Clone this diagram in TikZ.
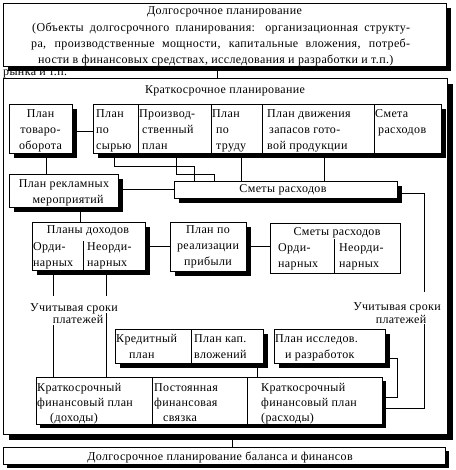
\documentclass[tikz,border=0pt]{standalone}
\usepackage{fontspec}
\setmainfont[LetterSpace=3]{Liberation Serif}
\usetikzlibrary{shadows}
\pgfdeclarelayer{bg}
\pgfdeclarelayer{lines}
\pgfsetlayers{bg,lines,main}
\begin{document}
\begin{tikzpicture}[x=1pt,y=-1pt,
  box/.style={draw, fill=white, line width=0.8pt, inner sep=0pt, outer sep=0pt, anchor=north west},
  shd/.style={drop shadow={shadow xshift=#1, shadow yshift=-#1, fill=black, opacity=1}},
  shd/.default=5pt,
  txt/.style={inner sep=0pt, anchor=base west, align=left, font=\fontsize{12}{16}\selectfont},
  ctxt/.style={inner sep=0pt, anchor=base, align=center, font=\fontsize{12}{16}\selectfont},
  conn/.style={line width=0.8pt}]
\useasboundingbox (0,0) rectangle (455,470);
% background layer: stray text and the outer frame
\begin{pgfonlayer}{bg}
\node[txt] (stray) at (3,76) {рынка и т.п.};
\node[box, shd=6pt, minimum width=444pt, minimum height=356pt] (outer) at (3,78) {};
\end{pgfonlayer}
% boxes
\node[box, shd, minimum width=443pt, minimum height=63pt] (top) at (3,3) {};
\node[box, shd=4pt, minimum width=442pt, minimum height=17pt] (bot) at (3,447) {};
\node[box, shd, minimum width=63pt, minimum height=49pt] (tovar) at (9,104) {};
\node[box, shd, minimum width=348pt, minimum height=49pt] (row) at (93,104) {};
\node[box, shd, minimum width=109pt, minimum height=33pt] (reklam) at (9,174) {};
\node[box, shd, minimum width=223pt, minimum height=17pt] (smety1) at (174,181) {};
\node[box, shd, minimum width=113pt, minimum height=48pt] (dohod) at (32,222) {};
\node[box, shd, minimum width=76pt, minimum height=49pt] (real) at (170,222) {};
\node[box, minimum width=130pt, minimum height=50pt] (smety2) at (270,223) {};
\node[box, shd, minimum width=148pt, minimum height=34pt] (kred) at (115,329) {};
\node[box, shd, minimum width=111pt, minimum height=34pt] (issl) at (274,329) {};
\node[box, shd=4pt, minimum width=346pt, minimum height=47pt] (fin) at (36,377) {};
% dividers
\foreach \dx in {45,118,169,281}
  \draw[conn] ([xshift=\dx pt]row.north west) -- ([xshift=\dx pt]row.south west);
\draw[conn] ([xshift=51pt,yshift=-19pt]dohod.north west) -- ([xshift=51pt]dohod.south west);
\draw[conn] ([xshift=64pt,yshift=-16pt]smety2.north west) -- ([xshift=64pt]smety2.south west);
\draw[conn] ([xshift=76pt]kred.north west) -- ([xshift=76pt]kred.south west);
\draw[conn] ([xshift=116pt]fin.north west) -- ([xshift=116pt]fin.south west);
\draw[conn] ([xshift=211pt]fin.north west) -- ([xshift=211pt]fin.south west);
% texts (multi-line nodes are placed by the baseline of their last line)
\node[ctxt] (tT1) at (224.5,15) {Долгосрочное планирование};
\node[txt] (tT2) at (32,31.3) {\makebox[378pt][s]{(Объекты долгосрочного планирования: организационная структу-}};
\node[txt] (tT3) at (31,47.6) {\makebox[379pt][s]{ра, производственные мощности, капитальные вложения, потреб-}};
\node[txt] (tT4) at (38,64) {ности в финансовых средствах, исследования и разработки и т.п.)};
\node[ctxt] (tST) at (225,94) {Краткосрочное планирование};
\node[ctxt] (tv) at (40.5,150) {План\\товаро-\\оборота};
\node[txt] (c1) at (96,150) {План\\по\\сырью};
\node[txt] (c2) at (139,150) {Производ-\\\hspace*{3pt}ственный\\\hspace*{3pt}план};
\node[txt] (c3) at (212,150) {План\\\hspace*{4pt}по\\\hspace*{4pt}труду};
\node[txt] (c4) at (267,150) {План движения\\\hspace*{2pt}запасов гото-\\вой продукции};
\node[txt] (c5) at (375,134) {Смета\\\hspace*{3pt}расходов};
\node[ctxt] (tr) at (64,203) {План рекламных\\\hspace*{8pt}мероприятий};
\node[ctxt] (ts1) at (283,193) {Сметы расходов};
\node[ctxt] (td) at (88,233) {Планы доходов};
\node[txt] (td1) at (33,266) {Орди-\\нарных};
\node[txt] (td2) at (87,266) {Неорди-\\нарных};
\node[ctxt] (tre) at (208,265) {План по\\реализации\\прибыли};
\node[ctxt] (ts2) at (337,235) {Сметы расходов};
\node[txt] (ts21) at (278,267) {Орди-\\нарных};
\node[txt] (ts22) at (339,267) {Неорди-\\нарных};
\node[ctxt, text height=15pt, text depth=2pt] (lL1) at (74,311) {Учитывая сроки};
\node[ctxt, text height=8pt, text depth=2pt] (lL2) at (78,323) {платежей};
\node[ctxt, text height=18pt, text depth=2pt] (lR1) at (397,310) {Учитывая сроки};
\node[ctxt, text height=8pt, text depth=1pt] (lR2) at (401,323) {платежей};
\node[txt] (tk1) at (116,358) {Кредитный\\\hspace*{13pt}план};
\node[txt] (tk2) at (194,358) {План кап.\\вложений};
\node[txt] (ti) at (275,358) {План исследов.\\\hspace*{10pt}и разработок};
\node[txt, font=\fontsize{12}{15}\selectfont] (tf1) at (37,421) {Краткосрочный\\финансовый план\\\hspace*{13pt}(доходы)};
\node[txt, font=\fontsize{12}{15}\selectfont] (tf2) at (154,421) {Постоянная\\финансовая\\\hspace*{9pt}связка};
\node[txt, font=\fontsize{12}{15}\selectfont] (tf3) at (261,421) {Краткосрочный\\финансовый план\\(расходы)};
\node[ctxt] (tb) at (220,460) {Долгосрочное планирование баланса и финансов};
% connectors
\begin{pgfonlayer}{lines}
\coordinate (a1) at ([xshift=214pt]top.south west);
\draw[conn] (a1) -- (a1 |- outer.north);
\coordinate (a2) at ([xshift=229pt]outer.south west);
\draw[conn] (a2) -- (a2 |- bot.north);
\coordinate (a3) at ([yshift=-2.5pt]tovar.east);
\draw[conn] (a3) -- (a3 -| row.west);
\coordinate (a4) at ([xshift=37pt]tovar.south west);
\draw[conn] (a4) -- (a4 |- reklam.north);
\draw[conn] (smety1.west) -- (smety1.west -| reklam.east);
\coordinate (b1) at ([xshift=21pt]row.south west);
\coordinate (b1e) at ([xshift=20pt]smety1.north west);
\draw[conn] (b1) -- ++(0,13) -| (b1e);
\coordinate (b2) at ([xshift=83pt]row.south west);
\coordinate (b2e) at ([xshift=40pt]smety1.north west);
\draw[conn] (b2) -- ++(0,21) -| (b2e);
\coordinate (b3) at ([xshift=148pt]row.south west);
\draw[conn] (b3) -- (b3 |- smety1.north);
\coordinate (b4) at ([xshift=231pt]row.south west);
\draw[conn] (b4) -- (b4 |- smety1.north);
\coordinate (s1) at ([yshift=-3.5pt]smety1.east);
\coordinate (vR) at (424,0);
\draw[conn] (s1) -| (vR |- lR1.north);
\coordinate (f2) at ([yshift=-7.5pt]fin.east);
\draw[conn] (vR |- lR2.south) |- (f2);
\coordinate (d1) at ([xshift=21pt]dohod.south west);
\draw[conn] (d1) -- (d1 |- lL1.north);
\draw[conn] (d1 |- lL2.south) -- (d1 |- fin.north);
\coordinate (d2) at ([xshift=74pt]dohod.south west);
\draw[conn] (d2) -- (d2 |- lL1.north);
\draw[conn] (d2 |- lL1.south) -- (d2 |- fin.north);
\draw[conn] (dohod.east) -- (dohod.east -| real.west);
\draw[conn] (real.east) -- (real.east -| smety2.west);
\coordinate (r5) at ([xshift=71pt]reklam.south west);
\draw[conn] (r5) -- (r5 |- dohod.north);
\coordinate (k1) at ([xshift=142pt]kred.south west);
\draw[conn] (k1) -- (k1 |- fin.north);
\coordinate (i1) at ([yshift=-12pt]issl.east);
\coordinate (vI) at (397,0);
\coordinate (f1) at ([yshift=3.5pt]fin.east);
\draw[conn] (i1) -| (vI |- f1) -- (f1);
\end{pgfonlayer}
\end{tikzpicture}
\end{document}
